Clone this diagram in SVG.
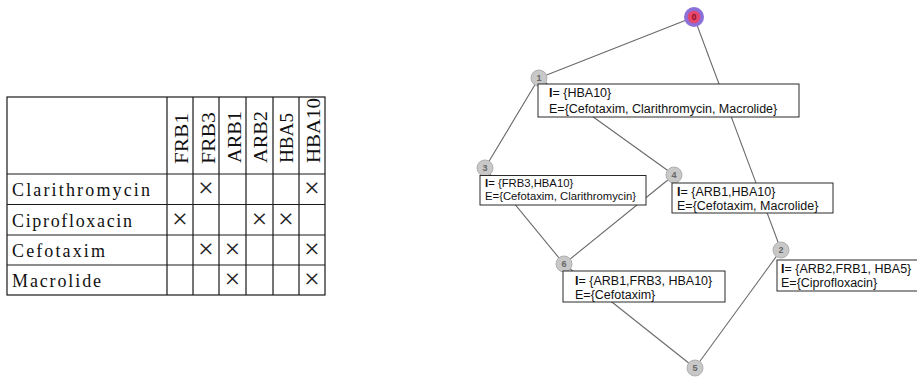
<svg xmlns="http://www.w3.org/2000/svg" width="917" height="385" viewBox="0 0 917 385">
<style>
.tl{stroke:#1a1a1a;stroke-width:1.2;fill:none}
.hd{font-family:"Liberation Serif",serif;font-size:18.5px;fill:#111}
.rw{font-family:"Liberation Serif",serif;font-size:18px;fill:#111}
.x{font-family:"Liberation Serif",serif;font-size:28px;fill:#222;text-anchor:middle}
.edge{stroke:#6a6a6a;stroke-width:1.1;fill:none}
.nd{fill:#c8c8c8;stroke:#b0b0b0;stroke-width:1}
.nl{font-family:"Liberation Sans",Arial,sans-serif;font-size:9px;font-weight:bold;fill:#666;text-anchor:middle}
.box{fill:#fff;stroke:#2a2a2a;stroke-width:1}
.bt{font-family:"Liberation Sans",Arial,sans-serif;font-size:12.5px;fill:#111}
.bs{font-family:"Liberation Sans",Arial,sans-serif;font-size:11.3px;fill:#111}
</style>
<rect width="917" height="385" fill="#fff"/>
<g id="table">
<rect x="7" y="97" width="318" height="198" class="tl"/>
<path class="tl" d="M167 97V295M193 97V295M219 97V295M246 97V295M273 97V295M299 97V295M7 174H325M7 204.5H325M7 235H325M7 265H325"/>
<text class="hd" transform="translate(188,164) rotate(-90)" textLength="51" lengthAdjust="spacingAndGlyphs">FRB1</text>
<text class="hd" transform="translate(214.5,164) rotate(-90)" textLength="52" lengthAdjust="spacingAndGlyphs">FRB3</text>
<text class="hd" transform="translate(240.5,163) rotate(-90)" textLength="52" lengthAdjust="spacingAndGlyphs">ARB1</text>
<text class="hd" transform="translate(267,163) rotate(-90)" textLength="52" lengthAdjust="spacingAndGlyphs">ARB2</text>
<text class="hd" transform="translate(293,163) rotate(-90)" textLength="50" lengthAdjust="spacingAndGlyphs">HBA5</text>
<text class="hd" transform="translate(320,163) rotate(-90)" textLength="65" lengthAdjust="spacingAndGlyphs">HBA10</text>
<text class="rw" x="12" y="196" textLength="138" lengthAdjust="spacing">Clarithromycin</text>
<text class="rw" x="12" y="227" textLength="120" lengthAdjust="spacing">Ciprofloxacin</text>
<text class="rw" x="12" y="257" textLength="93" lengthAdjust="spacing">Cefotaxim</text>
<text class="rw" x="12" y="287" textLength="89" lengthAdjust="spacing">Macrolide</text>
<text class="x" x="206" y="197">×</text>
<text class="x" x="312" y="197">×</text>
<text class="x" x="180" y="227.5">×</text>
<text class="x" x="259.5" y="227.5">×</text>
<text class="x" x="286" y="227.5">×</text>
<text class="x" x="206" y="258">×</text>
<text class="x" x="232.5" y="258">×</text>
<text class="x" x="312" y="258">×</text>
<text class="x" x="232.5" y="288">×</text>
<text class="x" x="312" y="288">×</text>
</g>
<g id="connectors">
<line class="edge" x1="694" y1="17" x2="539" y2="78"/>
<line class="edge" x1="694" y1="17" x2="781" y2="250"/>
<line class="edge" x1="539" y1="78" x2="485" y2="168"/>
<line class="edge" x1="539" y1="78" x2="674" y2="175"/>
<line class="edge" x1="485" y1="168" x2="564" y2="264"/>
<line class="edge" x1="674" y1="175" x2="564" y2="264"/>
<line class="edge" x1="564" y1="264" x2="695" y2="368"/>
<line class="edge" x1="781" y1="250" x2="695" y2="368"/>
</g>
<g id="node0">
<circle cx="694" cy="17" r="10" fill="#8a70d8"/>
<circle cx="694" cy="17" r="6.3" fill="#e4486e"/>
<text x="694" y="20" font-family="Liberation Sans,Arial,sans-serif" font-size="8.5" font-weight="bold" fill="#8b0a1a" text-anchor="middle">0</text>
</g>
<g id="node1">
<circle class="nd" cx="539" cy="78" r="8"/>
<text class="nl" x="539" y="81">1</text>
<rect class="box" x="538" y="84" width="261" height="33"/>
<text class="bt" x="549" y="97"><tspan font-weight="bold">I</tspan>= {HBA10}</text>
<text class="bt" x="549" y="112.5">E={Cefotaxim, Clarithromycin, Macrolide}</text>
</g>
<g id="node3">
<circle class="nd" cx="485" cy="168" r="8"/>
<text class="nl" x="485" y="171">3</text>
<rect class="box" x="480" y="175.5" width="166" height="29.5"/>
<text class="bs" x="485" y="186.5"><tspan font-weight="bold">I</tspan>= {FRB3,HBA10}</text>
<text class="bs" x="485" y="199.5">E={Cefotaxim, Clarithromycin}</text>
</g>
<g id="node4">
<circle class="nd" cx="674" cy="175" r="8"/>
<text class="nl" x="674" y="178">4</text>
<rect class="box" x="672" y="183" width="161" height="30"/>
<text class="bt" x="677" y="196"><tspan font-weight="bold">I</tspan>= {ARB1,HBA10}</text>
<text class="bt" x="677" y="209.5">E={Cefotaxim, Macrolide}</text>
</g>
<g id="node2">
<circle class="nd" cx="781" cy="250" r="8"/>
<text class="nl" x="781" y="253">2</text>
<rect class="box" x="777" y="260" width="145" height="31"/>
<text class="bt" x="781" y="273"><tspan font-weight="bold">I</tspan>= {ARB2,FRB1, HBA5}</text>
<text class="bt" x="781" y="287">E={Ciprofloxacin}</text>
</g>
<g id="node6">
<circle class="nd" cx="564" cy="264" r="8"/>
<text class="nl" x="564" y="267">6</text>
<rect class="box" x="563" y="271" width="162" height="31"/>
<text class="bt" x="575" y="285"><tspan font-weight="bold">I</tspan>= {ARB1,FRB3, HBA10}</text>
<text class="bt" x="575" y="298.5">E={Cefotaxim}</text>
</g>
<g id="node5">
<circle class="nd" cx="695" cy="368" r="8"/>
<text class="nl" x="695" y="371">5</text>
</g>
</svg>
